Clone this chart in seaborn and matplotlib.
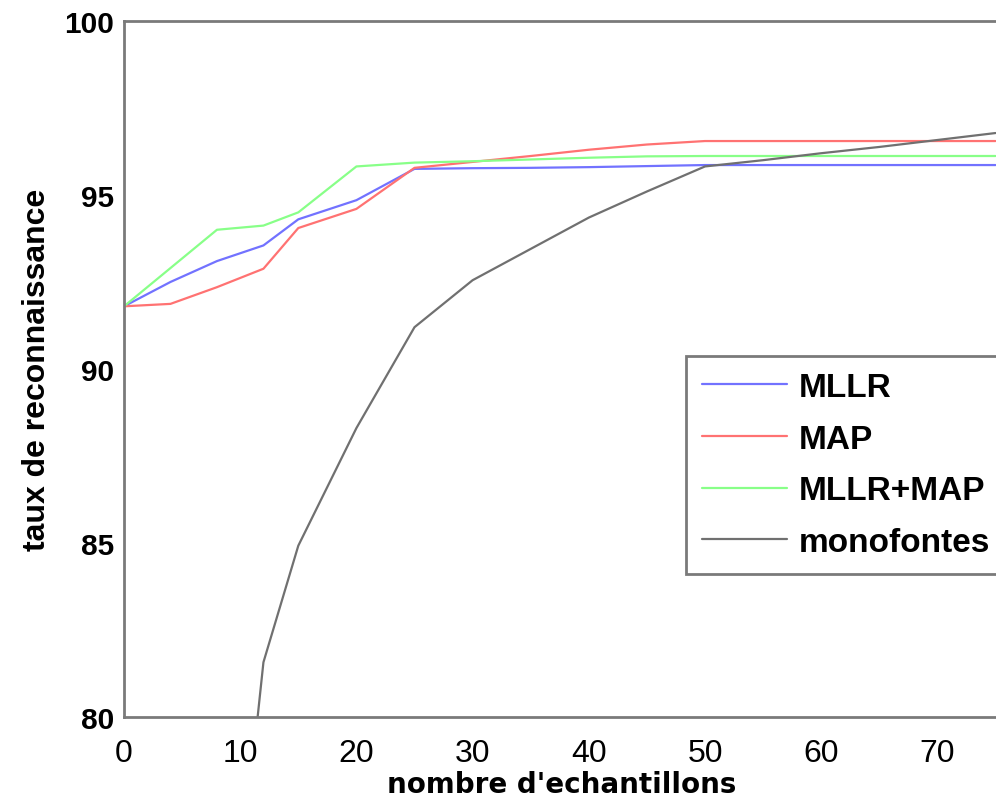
import numpy as np
import pandas as pd
import matplotlib
matplotlib.use("Agg")
import matplotlib.pyplot as plt
import seaborn as sns

# values
x_adapt = [0, 4, 8, 12, 15, 20, 25, 30, 35, 40, 45, 50, 55, 60, 65, 70, 75]
mllr = [91.8, 92.5, 93.1, 93.55, 94.3, 94.85, 95.75, 95.77, 95.78, 95.8, 95.83, 95.86,
        95.86, 95.86, 95.86, 95.86, 95.86]
map_ = [91.8, 91.87, 92.35, 92.88, 94.05, 94.6, 95.78, 95.95, 96.12, 96.3, 96.45, 96.55,
        96.55, 96.55, 96.55, 96.55, 96.55]
mllr_map = [91.8, 92.9, 94.0, 94.12, 94.5, 95.82, 95.93, 95.97, 96.02, 96.07, 96.11, 96.12,
            96.12, 96.12, 96.12, 96.12, 96.12]

x_mono = [8, 12, 15, 20, 25, 30, 35, 40, 45, 50, 55, 60, 65, 70, 75]
mono = [69.0, 81.57, 84.92, 88.3, 91.2, 92.55, 93.45, 94.35, 95.1, 95.82, 96.0, 96.2,
        96.38, 96.58, 96.78]

labels = ["MLLR", "MAP", "MLLR+MAP", "monofontes"]
colors = ["#7272ff", "#ff7272", "#88ff88", "#707070"]

df = pd.concat([
    pd.DataFrame({"n": x_adapt, "taux": mllr, "methode": labels[0]}),
    pd.DataFrame({"n": x_adapt, "taux": map_, "methode": labels[1]}),
    pd.DataFrame({"n": x_adapt, "taux": mllr_map, "methode": labels[2]}),
    pd.DataFrame({"n": x_mono, "taux": mono, "methode": labels[3]}),
])

sns.set_theme(style="white")
plt.rcParams['font.family'] = ['Liberation Sans', 'DejaVu Sans']
plt.rcParams['text.color'] = 'black'
plt.rcParams['xtick.labelcolor'] = 'black'
plt.rcParams['ytick.labelcolor'] = 'black'
plt.rcParams['axes.labelcolor'] = 'black'

fig = plt.figure(figsize=(9.96, 8.03), dpi=100)
ax = fig.add_axes([0.1245, 0.106, 0.8785, 0.8666])

sns.lineplot(data=df, x="n", y="taux", hue="methode", hue_order=labels,
             palette=dict(zip(labels, colors)), linewidth=1.6, ax=ax,
             estimator=None, sort=False)

ax.set_xlim(0, 75.3)
ax.set_ylim(80, 100)
ax.set_xticks(range(0, 80, 10))
ax.set_yticks([80, 85, 90, 95, 100])

for s in ax.spines.values():
    s.set_color("#7a7a7a")
    s.set_linewidth(2)

ax.tick_params(direction="in", length=7, width=1.5, color="#7a7a7a")
ax.tick_params(axis="y", labelsize=21.5, pad=7)
ax.tick_params(axis="x", labelsize=23, pad=15)
for lab in ax.get_yticklabels():
    lab.set_fontweight("bold")

ax.set_xlabel("nombre d'echantillons", fontsize=20, fontweight="bold", labelpad=2,
              family=["DejaVu Sans"])
ax.set_ylabel("taux de reconnaissance", fontsize=23, fontweight="bold", labelpad=9)

leg = ax.legend(loc="upper left", bbox_to_anchor=(0.689, 0.5554),
                bbox_transform=fig.transFigure,
                prop={"weight": "bold", "size": 24},
                handlelength=2.55, handletextpad=0.36, labelspacing=0.62,
                borderpad=0.48, borderaxespad=0, fancybox=False, framealpha=1)
leg.get_frame().set_edgecolor("#7a7a7a")
leg.get_frame().set_linewidth(2)

fig.savefig("out.png", dpi=100)
